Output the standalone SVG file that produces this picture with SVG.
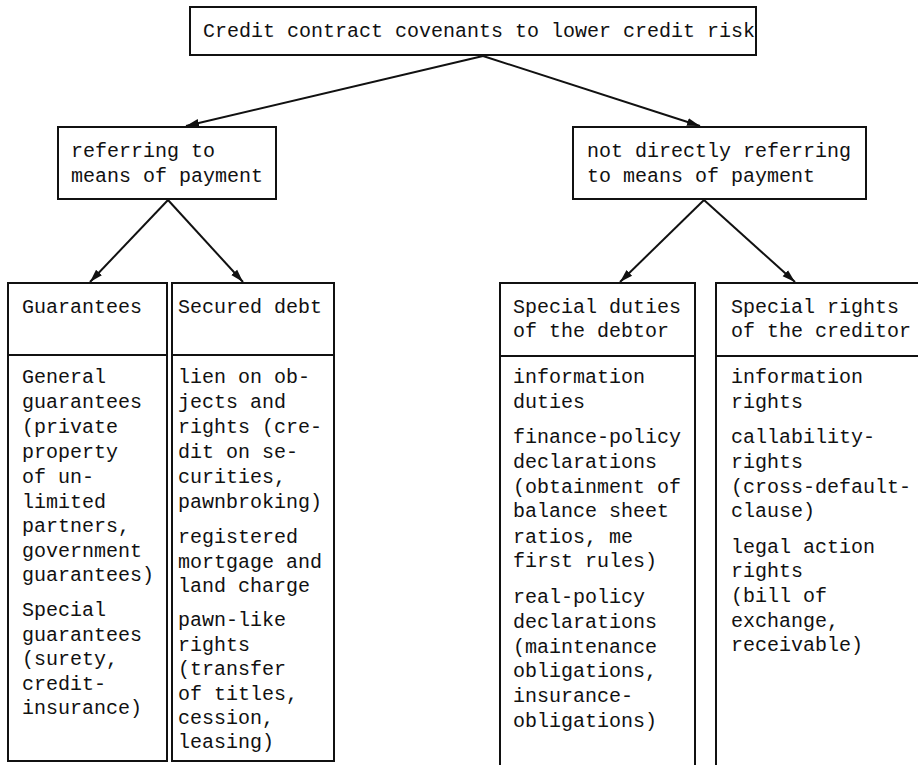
<svg xmlns="http://www.w3.org/2000/svg" width="918" height="765" viewBox="0 0 918 765">
<style>
  .box { fill: #fff; stroke: #111; stroke-width: 2; }
  .div { stroke: #111; stroke-width: 2; }
  .t { font-family: "Liberation Mono", "Courier New", monospace; font-size: 20px; fill: #111; }
  .conn { stroke: #111; stroke-width: 2; fill: none; marker-end: url(#arr); }
</style>
<defs>
  <marker id="arr" markerUnits="userSpaceOnUse" markerWidth="14" markerHeight="10" refX="13" refY="5" orient="auto">
    <path d="M0,1 L13,5 L0,9 Z" fill="#111"/>
  </marker>
</defs>
<rect width="918" height="765" fill="#fff"/>

<g id="connectors">
  <line class="conn" x1="483" y1="56" x2="186" y2="126"/>
  <line class="conn" x1="483" y1="56" x2="700" y2="126"/>
  <line class="conn" x1="168" y1="200" x2="90" y2="282"/>
  <line class="conn" x1="168" y1="200" x2="243" y2="282"/>
  <line class="conn" x1="704" y1="200" x2="620" y2="282"/>
  <line class="conn" x1="704" y1="200" x2="795" y2="282"/>
</g>

<g id="root">
  <rect class="box" x="190" y="7" width="566" height="48"/>
  <text class="t" x="203" y="37">Credit contract covenants to lower credit risk</text>
</g>

<g id="referring">
  <rect class="box" x="58" y="127" width="218" height="72"/>
  <text class="t" x="71" y="157">referring to</text>
  <text class="t" x="71" y="182">means of payment</text>
</g>

<g id="not-referring">
  <rect class="box" x="573" y="127" width="293" height="72"/>
  <text class="t" x="587" y="157">not directly referring</text>
  <text class="t" x="587" y="182">to means of payment</text>
</g>

<g id="guarantees">
  <rect class="box" x="8" y="283" width="159" height="478"/>
  <line class="div" x1="8" y1="355" x2="167" y2="355"/>
  <text class="t" x="22" y="313">Guarantees</text>
  <text class="t" x="22" y="383">General</text>
  <text class="t" x="22" y="408">guarantees</text>
  <text class="t" x="22" y="433">(private</text>
  <text class="t" x="22" y="458">property</text>
  <text class="t" x="22" y="483">of un-</text>
  <text class="t" x="22" y="508">limited</text>
  <text class="t" x="22" y="532">partners,</text>
  <text class="t" x="22" y="557">government</text>
  <text class="t" x="22" y="581">guarantees)</text>
  <text class="t" x="22" y="616">Special</text>
  <text class="t" x="22" y="641">guarantees</text>
  <text class="t" x="22" y="665">(surety,</text>
  <text class="t" x="22" y="690">credit-</text>
  <text class="t" x="22" y="714">insurance)</text>
</g>

<g id="secured-debt">
  <rect class="box" x="172" y="283" width="162" height="478"/>
  <line class="div" x1="172" y1="355" x2="334" y2="355"/>
  <text class="t" x="178" y="313">Secured debt</text>
  <text class="t" x="178" y="383">lien on ob-</text>
  <text class="t" x="178" y="408">jects and</text>
  <text class="t" x="178" y="433">rights (cre-</text>
  <text class="t" x="178" y="458">dit on se-</text>
  <text class="t" x="178" y="483">curities,</text>
  <text class="t" x="178" y="508">pawnbroking)</text>
  <text class="t" x="178" y="543">registered</text>
  <text class="t" x="178" y="568">mortgage and</text>
  <text class="t" x="178" y="592">land charge</text>
  <text class="t" x="178" y="626">pawn-like</text>
  <text class="t" x="178" y="651">rights</text>
  <text class="t" x="178" y="675">(transfer</text>
  <text class="t" x="178" y="700">of titles,</text>
  <text class="t" x="178" y="724">cession,</text>
  <text class="t" x="178" y="748">leasing)</text>
</g>

<g id="special-duties">
  <rect class="box" x="500" y="283" width="195" height="500"/>
  <line class="div" x1="500" y1="356" x2="695" y2="356"/>
  <text class="t" x="513" y="313">Special duties</text>
  <text class="t" x="513" y="337">of the debtor</text>
  <text class="t" x="513" y="383">information</text>
  <text class="t" x="513" y="408">duties</text>
  <text class="t" x="513" y="443">finance-policy</text>
  <text class="t" x="513" y="468">declarations</text>
  <text class="t" x="513" y="493">(obtainment of</text>
  <text class="t" x="513" y="517">balance sheet</text>
  <text class="t" x="513" y="543">ratios, me</text>
  <text class="t" x="513" y="567">first rules)</text>
  <text class="t" x="513" y="603">real-policy</text>
  <text class="t" x="513" y="628">declarations</text>
  <text class="t" x="513" y="653">(maintenance</text>
  <text class="t" x="513" y="677">obligations,</text>
  <text class="t" x="513" y="702">insurance-</text>
  <text class="t" x="513" y="727">obligations)</text>
</g>

<g id="special-rights">
  <rect class="box" x="716" y="283" width="220" height="500"/>
  <line class="div" x1="716" y1="356" x2="918" y2="356"/>
  <text class="t" x="731" y="313">Special rights</text>
  <text class="t" x="731" y="337">of the creditor</text>
  <text class="t" x="731" y="383">information</text>
  <text class="t" x="731" y="408">rights</text>
  <text class="t" x="731" y="443">callability-</text>
  <text class="t" x="731" y="468">rights</text>
  <text class="t" x="731" y="493">(cross-default-</text>
  <text class="t" x="731" y="517">clause)</text>
  <text class="t" x="731" y="553">legal action</text>
  <text class="t" x="731" y="577">rights</text>
  <text class="t" x="731" y="602">(bill of</text>
  <text class="t" x="731" y="627">exchange,</text>
  <text class="t" x="731" y="651">receivable)</text>
</g>
</svg>
